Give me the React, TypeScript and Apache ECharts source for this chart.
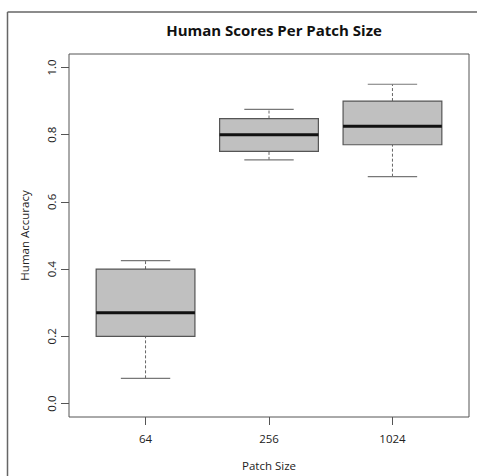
import React, { useEffect, useRef } from "react";
import * as echarts from "echarts";

const categories = ["64", "256", "1024"];
const whiskerLow = [0.075, 0.725, 0.675];
const q1 = [0.2, 0.75, 0.77];
const median = [0.27, 0.8, 0.825];
const q3 = [0.4, 0.848, 0.9];
const whiskerHigh = [0.425, 0.875, 0.95];
const yTicks = [0, 0.2, 0.4, 0.6, 0.8, 1.0];
const xPositions = [1, 2, 3];

const FONT = "'Open Sans', 'Noto Sans', sans-serif";

export default function App() {
  const ref = useRef<HTMLDivElement>(null);
  useEffect(() => {
    if (!ref.current) return;
    const chart = echarts.init(ref.current, null, { renderer: "svg" });
    const data = categories.map((_, i) => [
      xPositions[i],
      whiskerLow[i],
      q1[i],
      median[i],
      q3[i],
      whiskerHigh[i],
    ]);
    chart.setOption({
      animation: false,
      backgroundColor: "#ffffff",
      title: {
        text: "Human Scores Per Patch Size",
        left: 269,
        top: 17,
        textAlign: "center",
        textStyle: { fontFamily: FONT, fontWeight: "bold", fontSize: 15, color: "#111" },
      },
      graphic: [
        { type: "line", shape: { x1: 7.5, y1: 12, x2: 477, y2: 12 }, style: { stroke: "#666", lineWidth: 1.5 } },
        { type: "line", shape: { x1: 7.5, y1: 12, x2: 7.5, y2: 476 }, style: { stroke: "#666", lineWidth: 1.5 } },
      ],
      grid: {
        left: 69,
        top: 54,
        width: 400,
        height: 366,
        show: true,
        borderColor: "#555",
        borderWidth: 1,
        backgroundColor: "transparent",
      },
      xAxis: {
        type: "value",
        min: 0.38,
        max: 3.62,
        name: "Patch Size",
        nameLocation: "middle",
        nameGap: 42,
        nameTextStyle: { fontFamily: FONT, fontSize: 11.5, color: "#222" },
        axisLine: { show: false, onZero: false },
        splitLine: { show: false },
        axisTick: { show: true, length: 8, customValues: xPositions, lineStyle: { color: "#555" } },
        axisLabel: {
          customValues: xPositions,
          margin: 15,
          fontFamily: FONT,
          fontSize: 11.5,
          color: "#222",
          formatter: (v: number) => categories[Math.round(v) - 1] ?? "",
        },
      },
      yAxis: {
        type: "value",
        min: -0.04,
        max: 1.04,
        name: "Human Accuracy",
        nameLocation: "middle",
        nameGap: 39,
        nameTextStyle: { fontFamily: FONT, fontSize: 11.5, color: "#222" },
        axisLine: { show: false, onZero: false },
        splitLine: { show: false },
        axisTick: { show: true, length: 8, customValues: yTicks, lineStyle: { color: "#555" } },
        axisLabel: {
          customValues: yTicks,
          rotate: 90,
          margin: 12,
          fontFamily: FONT,
          fontSize: 11.5,
          color: "#222",
          formatter: (v: number) => v.toFixed(1),
        },
      },
      series: [
        {
          type: "custom",
          data,
          encode: { x: 0, y: [1, 2, 3, 4, 5] },
          renderItem: (params: any, api: any) => {
            const x = api.value(0);
            const lo = api.coord([x, api.value(1)]);
            const b1 = api.coord([x, api.value(2)]);
            const md = api.coord([x, api.value(3)]);
            const b3 = api.coord([x, api.value(4)]);
            const hi = api.coord([x, api.value(5)]);
            const halfBox = api.size([0.4, 0])[0];
            const halfCap = api.size([0.2, 0])[0];
            const cx = lo[0];
            const whisk = { stroke: "#666", lineWidth: 1, lineDash: [3, 2] };
            const cap = { stroke: "#777", lineWidth: 1.2 };
            return {
              type: "group",
              children: [
                { type: "line", shape: { x1: cx, y1: lo[1], x2: cx, y2: b1[1] }, style: whisk },
                { type: "line", shape: { x1: cx, y1: b3[1], x2: cx, y2: hi[1] }, style: whisk },
                { type: "line", shape: { x1: cx - halfCap, y1: lo[1], x2: cx + halfCap, y2: lo[1] }, style: cap },
                { type: "line", shape: { x1: cx - halfCap, y1: hi[1], x2: cx + halfCap, y2: hi[1] }, style: cap },
                {
                  type: "rect",
                  shape: { x: cx - halfBox, y: b3[1], width: halfBox * 2, height: b1[1] - b3[1] },
                  style: { fill: "#c0c0c0", stroke: "#555", lineWidth: 1.2 },
                },
                {
                  type: "line",
                  shape: { x1: cx - halfBox, y1: md[1], x2: cx + halfBox, y2: md[1] },
                  style: { stroke: "#111", lineWidth: 3 },
                },
              ],
            };
          },
        },
      ],
    });
    return () => chart.dispose();
  }, []);
  return <div ref={ref} style={{ width: 477, height: 476, position: "absolute", left: 0, top: 0 }} />;
}
